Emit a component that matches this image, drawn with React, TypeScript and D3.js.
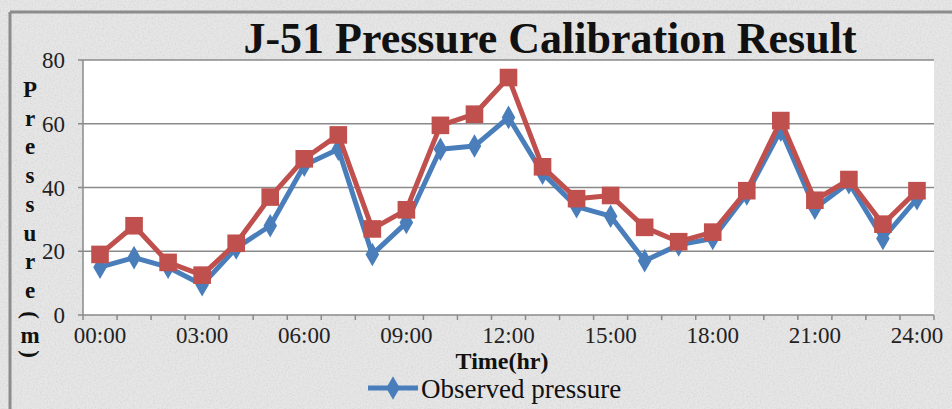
import { useEffect, useRef } from "react";
import * as d3 from "d3";

// categories on the x axis (one per hour)
const hours = [
  "00:00", "01:00", "02:00", "03:00", "04:00", "05:00", "06:00", "07:00", "08:00",
  "09:00", "10:00", "11:00", "12:00", "13:00", "14:00", "15:00", "16:00", "17:00",
  "18:00", "19:00", "20:00", "21:00", "22:00", "23:00", "24:00",
];
// only every third hour gets a label
const hourLabels = ["00:00", "03:00", "06:00", "09:00", "12:00", "15:00", "18:00", "21:00", "24:00"];

const observed = [15, 18, 15, 9.5, 21, 28, 47, 52, 19, 29, 52, 53, 62, 44.5, 34, 31, 17, 22, 24, 38, 58, 33.5, 41.5, 24, 36.5];
const simulated = [19, 28, 16.5, 12.5, 22.5, 37, 49, 56.5, 27, 33, 59.5, 63, 74.5, 46.5, 36.5, 37.5, 27.5, 23, 26, 39, 61, 36, 42.5, 28.5, 39];

const yTicks = [0, 20, 40, 60, 80];
const yTitle = ["P", "r", "e", "s", "s", "u", "r", "e"];

function App() {
  const ref = useRef<HTMLDivElement>(null);

  useEffect(() => {
    const width = 952;
    const height = 409;
    const plot = { left: 83, right: 934, top: 60, bottom: 315 };
    const blue = "#4a7ebb";
    const red = "#c0504d";
    const grid = "#8a8a8a";
    const serif = "'Liberation Serif', 'Times New Roman', serif";

    const svg = d3
      .select(ref.current)
      .append("svg")
      .attr("width", width)
      .attr("height", height)
      .style("display", "block");

    // speckled grey paper background
    const defs = svg.append("defs");
    const noise = defs.append("filter").attr("id", "speckle").attr("x", 0).attr("y", 0).attr("width", "100%").attr("height", "100%");
    noise.append("feTurbulence").attr("type", "fractalNoise").attr("baseFrequency", 0.6).attr("numOctaves", 2).attr("seed", 3);
    noise.append("feColorMatrix").attr("type", "matrix")
      .attr("values", "0 0 0 0 0.55  0 0 0 0 0.55  0 0 0 0 0.55  1.6 0 0 0 -0.65");

    svg.append("rect").attr("width", width).attr("height", height).attr("fill", "#e6e6e6");
    svg.append("rect").attr("width", width).attr("height", height).attr("filter", "url(#speckle)").attr("opacity", 0.5);

    // frame lines
    svg.append("line").attr("x1", 10).attr("x2", width).attr("y1", 12).attr("y2", 12)
      .attr("stroke", "#8c8c8c").attr("stroke-width", 3);
    svg.append("line").attr("x1", 10).attr("x2", 10).attr("y1", 12).attr("y2", height)
      .attr("stroke", "#8c8c8c").attr("stroke-width", 3);

    const x = d3.scaleBand<string>().domain(hours).range([plot.left, plot.right]);
    const y = d3.scaleLinear().domain([0, 80]).range([plot.bottom, plot.top]);
    const cx = (h: string) => (x(h) as number) + x.bandwidth() / 2;

    // plot area
    svg.append("rect")
      .attr("x", plot.left).attr("y", plot.top)
      .attr("width", plot.right - plot.left).attr("height", plot.bottom - plot.top)
      .attr("fill", "#ffffff");

    // gridlines
    svg.selectAll("line.grid")
      .data(yTicks.slice(1))
      .enter()
      .append("line")
      .attr("class", "grid")
      .attr("x1", plot.left).attr("x2", plot.right)
      .attr("y1", (d) => y(d)).attr("y2", (d) => y(d))
      .attr("stroke", grid).attr("stroke-width", 1.5);

    // y axis
    svg.append("line").attr("x1", plot.left).attr("x2", plot.left)
      .attr("y1", plot.top).attr("y2", plot.bottom)
      .attr("stroke", grid).attr("stroke-width", 1.5);
    svg.selectAll("line.ytick")
      .data(yTicks)
      .enter()
      .append("line")
      .attr("class", "ytick")
      .attr("x1", plot.left - 5).attr("x2", plot.left)
      .attr("y1", (d) => y(d)).attr("y2", (d) => y(d))
      .attr("stroke", grid).attr("stroke-width", 1.5);
    svg.selectAll("text.ylabel")
      .data(yTicks)
      .enter()
      .append("text")
      .attr("class", "ylabel")
      .attr("x", plot.left - 18)
      .attr("y", (d) => y(d))
      .attr("dy", "0.35em")
      .attr("text-anchor", "end")
      .attr("font-family", serif)
      .attr("font-size", 23)
      .attr("fill", "#222")
      .text((d) => d);

    // x axis
    svg.append("line").attr("x1", plot.left).attr("x2", plot.right)
      .attr("y1", plot.bottom).attr("y2", plot.bottom)
      .attr("stroke", grid).attr("stroke-width", 1.5);
    svg.selectAll("line.xtick")
      .data([...hours.map((h) => x(h) as number), plot.right])
      .enter()
      .append("line")
      .attr("class", "xtick")
      .attr("x1", (d) => d).attr("x2", (d) => d)
      .attr("y1", plot.bottom).attr("y2", plot.bottom + 5)
      .attr("stroke", grid).attr("stroke-width", 1.5);
    svg.selectAll("text.xlabel")
      .data(hourLabels)
      .enter()
      .append("text")
      .attr("class", "xlabel")
      .attr("x", (d) => cx(d))
      .attr("y", 343)
      .attr("text-anchor", "middle")
      .attr("font-family", serif)
      .attr("font-size", 23)
      .attr("fill", "#222")
      .text((d) => d);

    // series
    const line = d3.line<number>().x((d, i) => cx(hours[i])).y((d) => y(d));
    const series = [
      { values: observed, color: blue, symbol: d3.symbolDiamond, size: 160 },
      { values: simulated, color: red, symbol: d3.symbolSquare, size: 310 },
    ];
    series.forEach((s) => {
      svg.append("path")
        .attr("d", line(s.values))
        .attr("fill", "none")
        .attr("stroke", s.color)
        .attr("stroke-width", 5)
        .attr("stroke-linejoin", "round");
      svg.append("g")
        .selectAll("path")
        .data(s.values)
        .enter()
        .append("path")
        .attr("transform", (d, i) => `translate(${cx(hours[i])},${y(d)})`)
        .attr("d", d3.symbol().type(s.symbol).size(s.size)())
        .attr("fill", s.color);
    });

    // title
    svg.append("text")
      .attr("x", 550).attr("y", 53)
      .attr("text-anchor", "middle")
      .attr("font-family", serif)
      .attr("font-weight", "bold")
      .attr("font-size", 44)
      .attr("fill", "#111")
      .text("J-51 Pressure Calibration Result");

    // stacked y axis title
    const yt = svg.append("g")
      .attr("font-family", serif)
      .attr("font-weight", "bold")
      .attr("font-size", 23)
      .attr("fill", "#111")
      .attr("text-anchor", "middle");
    yTitle.forEach((ch, i) => {
      yt.append("text").attr("x", 30).attr("y", 97 + i * 28.7).text(ch);
    });
    yt.append("text").attr("transform", "translate(30,315) rotate(90)").attr("dy", "0.3em").text("(");
    yt.append("text").attr("x", 30).attr("y", 343).text("m");
    yt.append("text").attr("transform", "translate(30,354) rotate(90)").attr("dy", "0.3em").text(")");

    // x axis title
    svg.append("text")
      .attr("x", 502).attr("y", 369)
      .attr("text-anchor", "middle")
      .attr("font-family", serif)
      .attr("font-weight", "bold")
      .attr("font-size", 24)
      .attr("fill", "#111")
      .text("Time(hr)");

    // legend
    svg.append("line").attr("x1", 368).attr("x2", 418).attr("y1", 388).attr("y2", 388)
      .attr("stroke", blue).attr("stroke-width", 5);
    svg.append("path")
      .attr("transform", "translate(393,388)")
      .attr("d", d3.symbol().type(d3.symbolDiamond).size(160)())
      .attr("fill", blue);
    svg.append("text")
      .attr("x", 421).attr("y", 398)
      .attr("font-family", serif)
      .attr("font-size", 27)
      .attr("fill", "#111")
      .text("Observed pressure");

    return () => {
      d3.select(ref.current).select("svg").remove();
    };
  }, []);

  return <div ref={ref} style={{ position: "fixed", left: 0, top: 0 }}></div>;
}

export default App;
